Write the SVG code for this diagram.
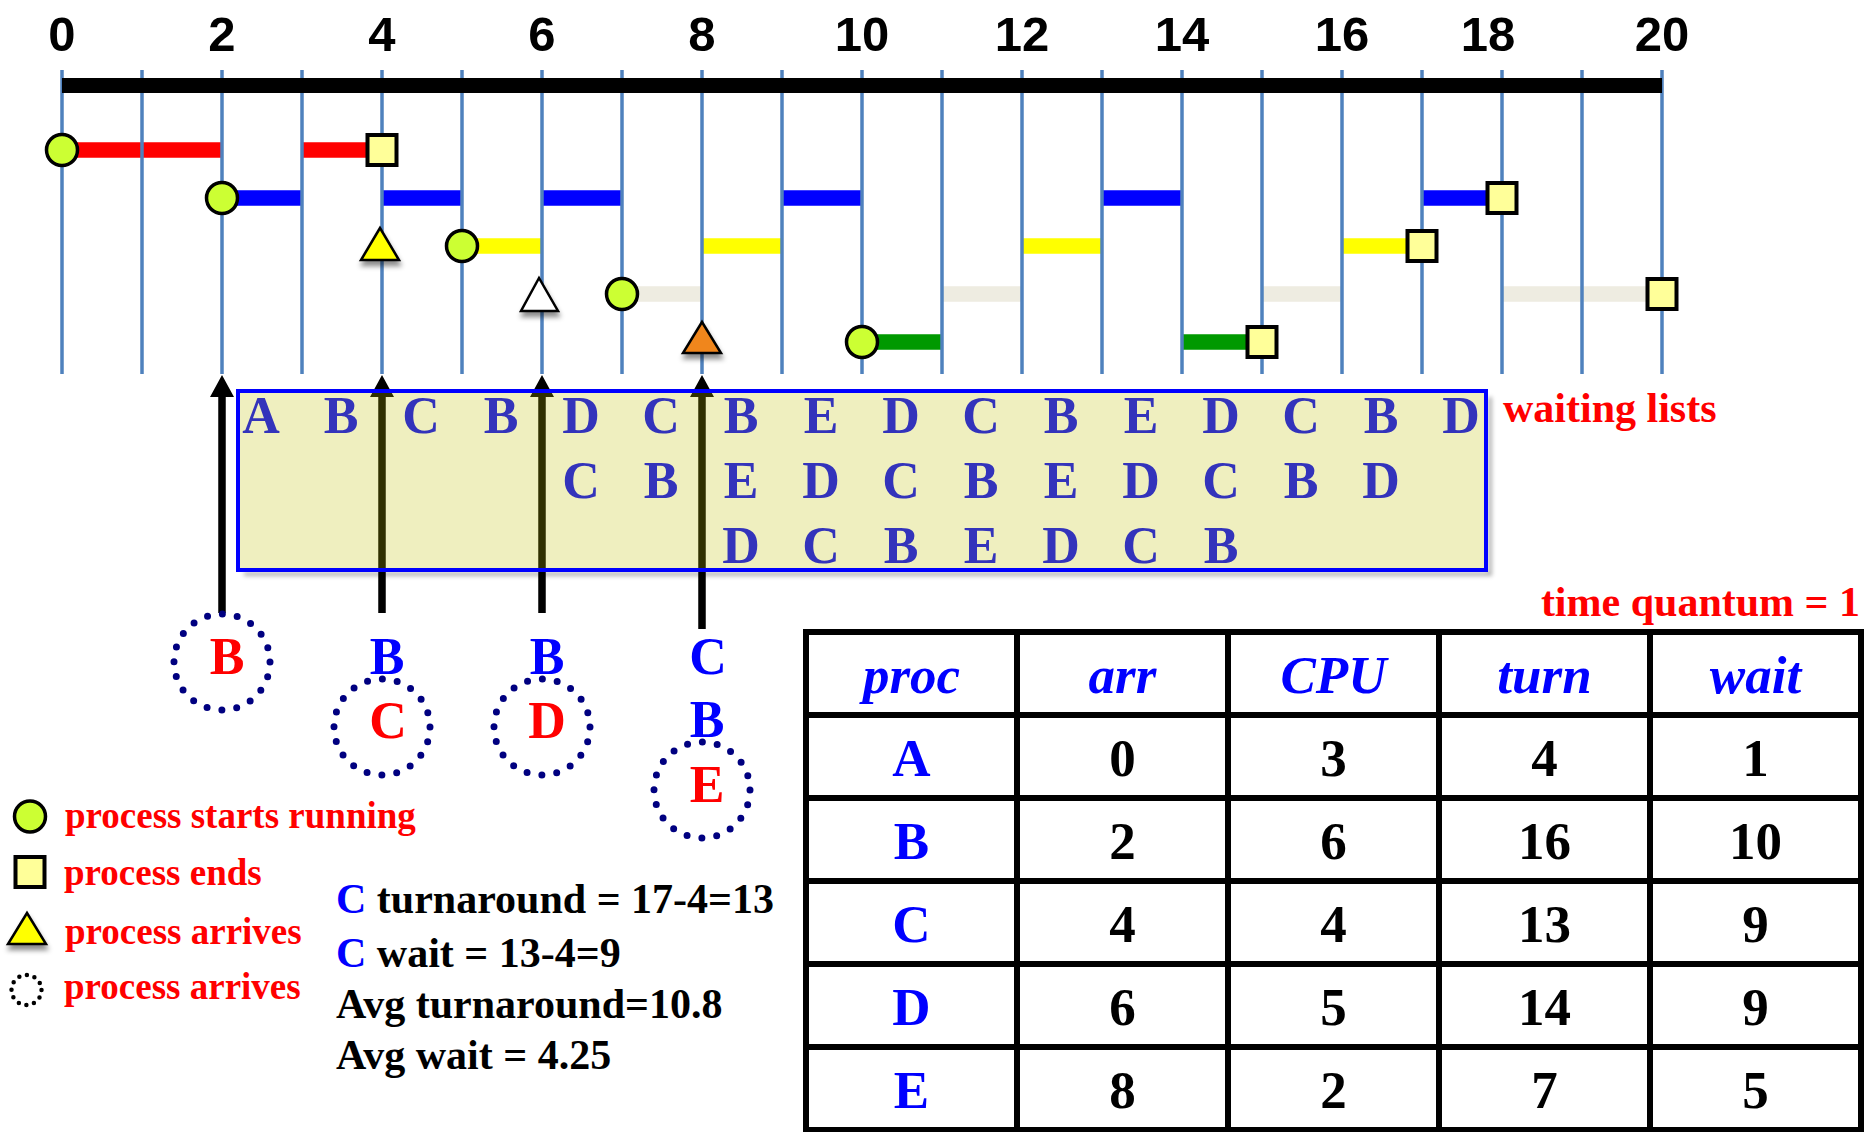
<svg xmlns="http://www.w3.org/2000/svg" width="1864" height="1132" viewBox="0 0 1864 1132">
<style>
.num{font-family:"Liberation Sans",Arial,sans-serif;font-weight:bold;font-size:49px;text-anchor:middle;fill:#000}
.ser{font-family:"Liberation Serif","Times New Roman",serif;font-weight:bold}
.q{font-size:52px;fill:#3333bb;text-anchor:middle}
.big{font-size:52px;text-anchor:middle}
.red{fill:#ff0000}
.blue{fill:#0000ff}
.blk{fill:#000}
.start{fill:#ccff33;stroke:#000;stroke-width:3.5}
.end{fill:#ffff99;stroke:#000;stroke-width:4}
.tri{stroke:#000;stroke-width:2.5;stroke-linejoin:miter;filter:url(#sh)}
.dot{fill:none;stroke:#000080;stroke-width:7;stroke-linecap:round;stroke-dasharray:0 15.08}
.bar{stroke-width:15.5;fill:none}
.leg{font-size:37px}
.stat{font-size:42px}
.cell{font-size:53px;text-anchor:middle}
.arrow{stroke:#000;stroke-width:7.5;fill:none}
</style>
<defs>
<filter id="sh" x="-50%" y="-50%" width="200%" height="200%">
<feDropShadow dx="1" dy="5" stdDeviation="2.5" flood-color="#000" flood-opacity="0.45"/>
</filter>
<filter id="blur" x="-10%" y="-10%" width="120%" height="120%">
<feGaussianBlur stdDeviation="2"/>
</filter>
</defs>
<rect width="1864" height="1132" fill="#fff"/>

<g id="axis-labels">
<text class="num" x="62" y="51">0</text>
<text class="num" x="222" y="51">2</text>
<text class="num" x="382" y="51">4</text>
<text class="num" x="542" y="51">6</text>
<text class="num" x="702" y="51">8</text>
<text class="num" x="862" y="51">10</text>
<text class="num" x="1022" y="51">12</text>
<text class="num" x="1182" y="51">14</text>
<text class="num" x="1342" y="51">16</text>
<text class="num" x="1488" y="51">18</text>
<text class="num" x="1662" y="51">20</text>
</g>

<g id="gantt-bars">
<path class="bar" stroke="#ff0000" d="M62 150H222M302 150H382"/>
<path class="bar" stroke="#0000ff" d="M222 198H302M382 198H462M542 198H622M782 198H862M1102 198H1182M1422 198H1502"/>
<path class="bar" stroke="#ffff00" d="M462 246H542M702 246H782M1022 246H1102M1342 246H1422"/>
<path class="bar" stroke="#eeece1" d="M622 294H702M942 294H1022M1262 294H1342M1502 294H1662"/>
<path class="bar" stroke="#009900" d="M862 342H942M1182 342H1262"/>
</g>

<g id="grid">
<path stroke="#4f81bd" stroke-width="3.5" fill="none" d="M62 70V374M142 70V374M222 70V374M302 70V374M382 70V374M462 70V374M542 70V374M622 70V374M702 70V374M782 70V374M862 70V374M942 70V374M1022 70V374M1102 70V374M1182 70V374M1262 70V374M1342 70V374M1422 70V374M1502 70V374M1582 70V374M1662 70V374"/>
<path stroke="#000" stroke-width="15" d="M62 85.5H1662"/>
</g>

<g id="markers">
<circle class="start" cx="62" cy="150" r="15.5"/>
<circle class="start" cx="222" cy="198" r="15.5"/>
<circle class="start" cx="462" cy="246" r="15.5"/>
<circle class="start" cx="622" cy="294" r="15.5"/>
<circle class="start" cx="862" cy="342" r="15.5"/>
<rect class="end" x="367.5" y="135" width="29" height="30"/>
<rect class="end" x="1487.5" y="183" width="29" height="30"/>
<rect class="end" x="1407.5" y="231" width="29" height="30"/>
<rect class="end" x="1647.5" y="279" width="29" height="30"/>
<rect class="end" x="1247.5" y="327" width="29" height="30"/>
<polygon class="tri" fill="#ffff00" points="380,228 361,260 399,260"/>
<polygon class="tri" fill="#ffffff" points="539,278 521,311 558,311"/>
<polygon class="tri" fill="#f0861a" points="702,322 683,353 721,353"/>
</g>

<g id="connectors">
<path class="arrow" d="M222 613V395M382 613V395M542 613V395M702 629V395"/>
<path fill="#000" d="M222 375L210 397H234ZM382 375L370 397H394ZM542 375L530 397H554ZM702 375L690 397H714Z"/>
</g>

<g id="waiting-lists">
<path d="M244 574H1490V397" stroke="#000" stroke-opacity="0.3" stroke-width="4" fill="none" filter="url(#blur)"/>
<rect x="238" y="391" width="1248" height="179" fill="#c0c000" fill-opacity="0.25" stroke="#0000ff" stroke-width="4"/>
<g class="ser q">
<text x="261" y="433">A</text><text x="341" y="433">B</text><text x="421" y="433">C</text><text x="501" y="433">B</text>
<text x="581" y="433">D</text><text x="661" y="433">C</text><text x="741" y="433">B</text><text x="821" y="433">E</text>
<text x="901" y="433">D</text><text x="981" y="433">C</text><text x="1061" y="433">B</text><text x="1141" y="433">E</text>
<text x="1221" y="433">D</text><text x="1301" y="433">C</text><text x="1381" y="433">B</text><text x="1461" y="433">D</text>
<text x="581" y="498">C</text><text x="661" y="498">B</text><text x="741" y="498">E</text><text x="821" y="498">D</text>
<text x="901" y="498">C</text><text x="981" y="498">B</text><text x="1061" y="498">E</text><text x="1141" y="498">D</text>
<text x="1221" y="498">C</text><text x="1301" y="498">B</text><text x="1381" y="498">D</text>
<text x="741" y="563">D</text><text x="821" y="563">C</text><text x="901" y="563">B</text><text x="981" y="563">E</text>
<text x="1061" y="563">D</text><text x="1141" y="563">C</text><text x="1221" y="563">B</text>
</g>
<text class="ser red" x="1503" y="422" font-size="42">waiting lists</text>
</g>

<g id="arrivals">
<circle class="dot" cx="222" cy="662" r="48"/>
<circle class="dot" cx="382" cy="727" r="48"/>
<circle class="dot" cx="542" cy="727" r="48"/>
<circle class="dot" cx="702" cy="790" r="48"/>
<g class="ser big">
<text class="red" x="227" y="674">B</text>
<text class="blue" x="387" y="674">B</text>
<text class="red" x="388" y="738">C</text>
<text class="blue" x="547" y="674">B</text>
<text class="red" x="547" y="738">D</text>
<text class="blue" x="708" y="674">C</text>
<text class="blue" x="707" y="737">B</text>
<text class="red" x="707" y="802">E</text>
</g>
</g>

<g id="legend">
<circle class="start" cx="30" cy="816.5" r="15.5"/>
<rect class="end" x="15.5" y="857" width="29" height="30"/>
<polygon class="tri" fill="#ffff00" points="27,913 8,944 46,944"/>
<circle cx="26.5" cy="990" r="15" fill="none" stroke="#000" stroke-width="4.5" stroke-linecap="round" stroke-dasharray="0 7.85"/>
<g class="ser leg red">
<text x="65" y="828">process starts running</text>
<text x="64" y="885">process ends</text>
<text x="65" y="944">process arrives</text>
<text x="64" y="999">process arrives</text>
</g>
</g>

<g id="stats" class="ser stat blk">
<text x="336" y="913"><tspan class="blue">C</tspan> turnaround = 17-4=13</text>
<text x="336" y="967"><tspan class="blue">C</tspan> wait = 13-4=9</text>
<text x="336" y="1018">Avg turnaround=10.8</text>
<text x="336" y="1069">Avg wait = 4.25</text>
</g>

<g id="table">
<text class="ser red" x="1860" y="616" font-size="42" text-anchor="end">time quantum = 1</text>
<path fill="none" stroke="#000" stroke-width="6" d="M806 632H1861V1130H806ZM806 715H1861M806 798H1861M806 881H1861M806 964H1861M806 1047H1861M1017 632V1130M1228 632V1130M1439 632V1130M1650 632V1130"/>
<g class="ser cell blue" font-style="italic">
<text x="911.5" y="693">proc</text><text x="1122.5" y="693">arr</text><text x="1333.5" y="693">CPU</text><text x="1544.5" y="693">turn</text><text x="1755.5" y="693">wait</text>
</g>
<g class="ser cell blue">
<text x="911.5" y="776">A</text><text x="911.5" y="859">B</text><text x="911.5" y="942">C</text><text x="911.5" y="1025">D</text><text x="911.5" y="1108">E</text>
</g>
<g class="ser cell blk">
<text x="1122.5" y="776">0</text><text x="1333.5" y="776">3</text><text x="1544.5" y="776">4</text><text x="1755.5" y="776">1</text>
<text x="1122.5" y="859">2</text><text x="1333.5" y="859">6</text><text x="1544.5" y="859">16</text><text x="1755.5" y="859">10</text>
<text x="1122.5" y="942">4</text><text x="1333.5" y="942">4</text><text x="1544.5" y="942">13</text><text x="1755.5" y="942">9</text>
<text x="1122.5" y="1025">6</text><text x="1333.5" y="1025">5</text><text x="1544.5" y="1025">14</text><text x="1755.5" y="1025">9</text>
<text x="1122.5" y="1108">8</text><text x="1333.5" y="1108">2</text><text x="1544.5" y="1108">7</text><text x="1755.5" y="1108">5</text>
</g>
</g>
</svg>
